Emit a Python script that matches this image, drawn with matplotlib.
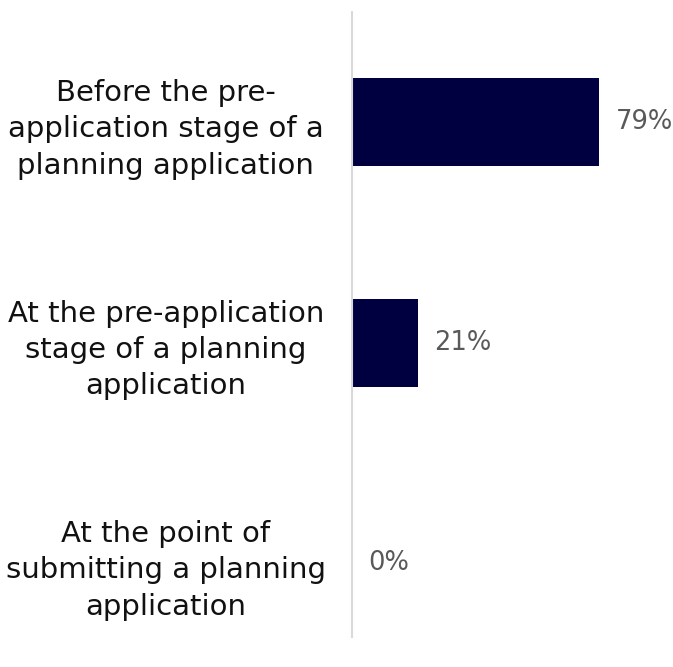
import matplotlib
matplotlib.use("Agg")
import matplotlib.pyplot as plt

categories = ["Before the pre-\napplication stage of a\nplanning application",
              "At the pre-application\nstage of a planning\napplication",
              "At the point of\nsubmitting a planning\napplication"]
values = [0.79, 0.21, 0.0]
value_labels = ["79%", "21%", "0%"]

plt.rcParams['font.family'] = ['DejaVu Sans']

fig = plt.figure(figsize=(6.73, 6.67), dpi=100)
ax = fig.add_axes([352/673, 1 - 637/667, 312.7/673, (637 - 12)/667])

pos = list(range(len(categories)))
bars = ax.barh(pos, values, height=0.4, color="#000040")
ax.set_xlim(0, 1)
ax.set_ylim(2.335, -0.5)

ax.bar_label(bars, labels=value_labels, padding=12, fontsize=18.5, color="#595959")

ax.set_yticks(pos)
ax.set_yticklabels(categories, fontsize=21, color="#111111", ha="center", linespacing=1.38)
ax.tick_params(axis="y", length=0, pad=134)
ax.set_xticks([])
for s in ["top", "right", "bottom"]:
    ax.spines[s].set_visible(False)
ax.spines["left"].set_color("#d9d9d9")
ax.spines["left"].set_linewidth(1.5)

fig.savefig("out.png", dpi=100)
